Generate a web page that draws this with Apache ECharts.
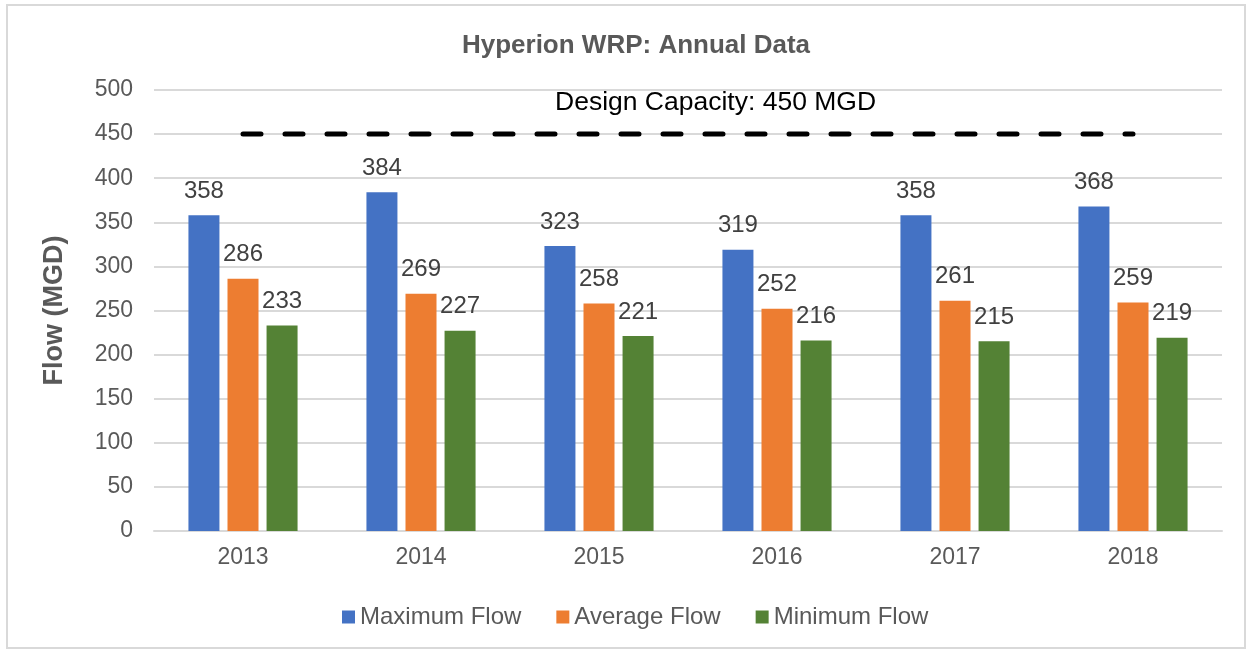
<!DOCTYPE html>
<html style="height: 100%">
<head>
    <meta charset="utf-8">
    <title>Hyperion WRP</title>
    <script src="https://cdn.jsdelivr.net/npm/echarts@6/dist/echarts.min.js"></script>
</head>
<body style="height: 100%; margin: 0; background: #fff">
<div id="main" style="width: 1251px; height: 652px"></div>

<script type="text/javascript">
    var years = ['2013', '2014', '2015', '2016', '2017', '2018'];
    var maxFlow = [358, 384, 323, 319, 358, 368];
    var avgFlow = [286, 269, 258, 252, 261, 259];
    var minFlow = [233, 227, 221, 216, 215, 219];
    var designCapacity = [450, 450, 450, 450, 450, 450];

    var font = '"Liberation Sans", Arial, sans-serif';
    var myChart = echarts.init(document.getElementById('main'));

    function barSeries(name, data, color) {
        return {
            name: name,
            type: 'bar',
            data: data,
            barWidth: 31,
            barGap: '26%',
            itemStyle: {color: color},
            label: {
                show: true,
                position: 'top',
                distance: 12,
                fontSize: 24,
                fontFamily: font,
                color: '#404040'
            }
        };
    }

    var option = {
        animation: false,
        title: {
            text: 'Hyperion WRP: Annual Data',
            left: 631,
            textAlign: 'center',
            top: 28,
            textStyle: {fontSize: 26, fontWeight: 'bold', color: '#595959', fontFamily: font}
        },
        graphic: [
            {
                type: 'rect',
                shape: {x: 7, y: 5, width: 1238, height: 643},
                style: {fill: 'none', stroke: '#d9d9d9', lineWidth: 2},
                silent: true
            },
            {
                type: 'text',
                left: 555,
                top: 89,
                style: {text: 'Design Capacity: 450 MGD', fontSize: 26.5, fontFamily: font, fill: '#000'}
            }
        ],
        legend: {
            top: 600,
            left: 337,
            itemWidth: 13,
            itemHeight: 13,
            itemGap: 35,
            icon: 'rect',
            data: ['Maximum Flow', 'Average Flow', 'Minimum Flow'],
            textStyle: {fontSize: 24, color: '#595959', fontFamily: font, padding: [0, 0, 0, 0]}
        },
        grid: {left: 154, right: 29, top: 90, bottom: 121},
        xAxis: {
            type: 'category',
            data: years,
            axisTick: {show: false},
            axisLine: {lineStyle: {color: '#d9d9d9', width: 2}},
            axisLabel: {fontSize: 23, color: '#595959', fontFamily: font, margin: 15}
        },
        yAxis: {
            type: 'value',
            min: 0,
            max: 500,
            interval: 50,
            name: 'Flow (MGD)',
            nameLocation: 'middle',
            nameGap: 86,
            nameTextStyle: {fontSize: 27, fontWeight: 'bold', color: '#595959', fontFamily: font},
            axisLabel: {fontSize: 23, color: '#595959', fontFamily: font, margin: 21},
            splitLine: {lineStyle: {color: '#d9d9d9', width: 2}}
        },
        series: [
            barSeries('Maximum Flow', maxFlow, '#4472C4'),
            barSeries('Average Flow', avgFlow, '#ED7D31'),
            barSeries('Minimum Flow', minFlow, '#548235'),
            {
                name: 'Design Capacity',
                type: 'line',
                data: designCapacity,
                symbol: 'none',
                lineStyle: {color: '#000', width: 5, type: [18, 24], cap: 'round'},
                z: 5
            }
        ]
    };
    myChart.setOption(option);
</script>
</body>
</html>
